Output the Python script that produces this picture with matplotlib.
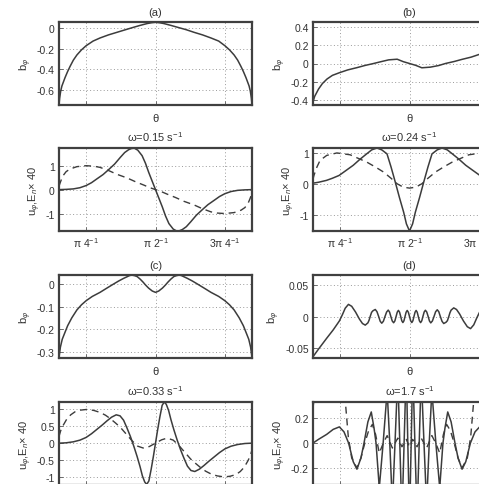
import matplotlib.pyplot as plt
import numpy as np

plt.rcParams['font.family'] = ['Liberation Sans', 'DejaVu Sans']
plt.rcParams['mathtext.fontset'] = 'custom'
plt.rcParams['mathtext.rm'] = 'Liberation Sans'
plt.rcParams['mathtext.it'] = 'Liberation Sans:italic'
plt.rcParams['axes.unicode_minus'] = False

# ---- data (theta in degrees) ----
th_a = [27.4, 27.8, 28.5, 29.3, 30.3, 31.3, 33, 34.6, 36.7, 39, 42, 45, 49.5, 54, 59.5, 65, 70.5, 75.6, 80, 84.6, 87.5, 90,
        92.5, 95.4, 100, 104.5, 110, 115, 120.5, 126, 131, 135, 138, 141, 143.3, 145.4, 147, 148.7, 149.7, 150.7, 151.5, 152.2, 152.6]
b_a = [-0.745, -0.68, -0.61, -0.56, -0.52, -0.48, -0.42, -0.37, -0.31, -0.26, -0.21, -0.17, -0.125, -0.095, -0.065, -0.04, -0.015, 0.008, 0.027, 0.045, 0.053, 0.057,
       0.053, 0.045, 0.027, 0.008, -0.015, -0.04, -0.065, -0.095, -0.125, -0.17, -0.21, -0.26, -0.31, -0.37, -0.42, -0.48, -0.52, -0.56, -0.61, -0.68, -0.745]

th_b = [27.4, 28.5, 31, 33.5, 36.5, 40, 44.7, 50, 56, 61, 66.7, 72, 76.5, 82, 86, 90, 94, 98, 103.5, 109, 113.3, 119, 124, 130, 135.3, 140, 143.5, 146.5, 149, 151.5, 152.6]
b_b = [-0.42, -0.36, -0.28, -0.22, -0.17, -0.13, -0.10, -0.07, -0.045, -0.022, 0.0, 0.022, 0.04, 0.047, 0.02, 0.0, -0.02, -0.047, -0.04, -0.022, 0.0, 0.022, 0.045, 0.07, 0.10, 0.13, 0.17, 0.22, 0.28, 0.36, 0.42]

th_c = [27.4, 28.3, 29.5, 31.3, 33, 35.7, 39, 42, 45, 49, 54, 58, 62.8, 66, 69.3, 71.5, 73, 74.5, 76.5, 78.1, 80, 82, 83.5, 85.5, 87.9, 90,
        92.1, 94.5, 96.5, 98, 100, 101.9, 103.5, 105.5, 107, 108.5, 110.7, 114, 117.2, 122, 126, 131, 135, 138, 141, 144.3, 147, 148.7, 150.5, 151.7, 152.6]
b_c = [-0.325, -0.28, -0.245, -0.214, -0.185, -0.15, -0.115, -0.092, -0.074, -0.055, -0.037, -0.02, 0.0, 0.013, 0.025, 0.032, 0.037, 0.04, 0.037, 0.033, 0.022, 0.008, -0.004, -0.018, -0.031, -0.037,
       -0.031, -0.018, -0.004, 0.008, 0.022, 0.033, 0.037, 0.04, 0.037, 0.032, 0.025, 0.013, 0.0, -0.02, -0.037, -0.055, -0.074, -0.092, -0.115, -0.15, -0.185, -0.214, -0.245, -0.28, -0.325]

th_d = [27.4, 31, 36.3, 40.5, 44.5, 46.5, 48.3, 50.4, 52.5, 55, 57.5, 59.5, 61.3, 63, 63.75, 64.5, 65.4, 66.3, 67.8, 68.9,
        70, 71, 72, 73.05, 74.1, 75.15, 76.2, 77.05, 77.9, 78.8, 79.7, 80.5, 81.3, 82.05, 82.8, 83.55, 84.3, 85, 85.7, 86.4,
        87.1, 87.8, 88.5, 89.25, 90, 90.75, 91.5, 92.2, 92.9, 93.6, 94.3, 95, 95.7, 96.45, 97.2, 97.95, 98.7, 99.5, 100.3, 101.2,
        102.1, 102.95, 103.8, 104.85, 105.9, 106.95, 108, 109, 110, 111.1, 112.2, 113.7, 114.6, 115.5, 116.25, 117, 118.7, 120.5, 122.5, 125,
        127.5, 129.6, 131.7, 133.5, 135.5, 139.5, 143.7, 149, 152.6]
b_d = [-0.063, -0.051, -0.034, -0.021, -0.007, 0.003, 0.013, 0.019, 0.016, 0.007, -0.004, -0.011, -0.0135, -0.010, -0.006, 0.0, 0.0065, 0.009, 0.011, 0.0075,
       0.0, -0.0075, -0.0105, -0.0075, 0.0, 0.007, 0.010, 0.007, 0.0, -0.007, -0.0098, -0.007, 0.0, 0.0068, 0.0096, 0.0068, 0.0, -0.0067, -0.0095, -0.0067,
       0.0, 0.0067, 0.0095, 0.0067, 0.0, -0.0067, -0.0095, -0.0067, 0.0, 0.0067, 0.0095, 0.0067, 0.0, -0.0068, -0.0096, -0.0068, 0.0, 0.007, 0.0098, 0.007,
       0.0, -0.007, -0.010, -0.007, 0.0, 0.0075, 0.0105, 0.0075, 0.0, -0.0075, -0.011, -0.009, -0.0065, 0.0, 0.006, 0.010, 0.0135, 0.011, 0.004, -0.007,
       -0.016, -0.019, -0.013, -0.003, 0.007, 0.021, 0.034, 0.051, 0.063]

th_015 = [27.4, 32, 36.7, 41, 45, 48.5, 52, 56, 59.5, 63.5, 67.2, 70, 72.6, 74.5, 76.3, 78.5, 81.3, 83.5, 85.6, 87.8, 90,
          92.2, 94.4, 96.5, 98.7, 101.5, 103.7, 105.5, 107.4, 110, 112.8, 116.5, 120.5, 124, 128, 131.5, 135, 139, 143.3, 148, 152.6]
u_015 = [0, 0.01, 0.03, 0.08, 0.17, 0.29, 0.45, 0.63, 0.83, 1.07, 1.35, 1.55, 1.67, 1.72, 1.73, 1.65, 1.42, 1.1, 0.72, 0.36, 0,
         -0.36, -0.72, -1.1, -1.42, -1.65, -1.73, -1.72, -1.67, -1.55, -1.35, -1.07, -0.83, -0.63, -0.45, -0.29, -0.17, -0.08, -0.03, -0.01, 0]
th_015e = [27.4, 28.7, 30, 32, 34.5, 39, 45, 50, 54, 59.5, 65, 71.5, 77, 82.4, 86, 90, 94, 97.6, 103, 108.5, 115, 120.5, 126, 130, 135, 141, 145.5, 148, 150, 151.3, 152.6]
e_015 = [0.15, 0.38, 0.58, 0.75, 0.86, 0.96, 1.0, 0.98, 0.93, 0.8, 0.64, 0.49, 0.33, 0.19, 0.09, 0, -0.09, -0.19, -0.33, -0.49, -0.64, -0.8, -0.93, -0.98, -1.0, -0.96, -0.86, -0.75, -0.58, -0.38, -0.15]

th_024 = [27.4, 31, 36.1, 40, 44.3, 48.5, 53.5, 58, 62.2, 65.5, 68.9, 72, 75.4, 78, 80.8, 83.5, 86.2, 88, 90,
          92, 93.8, 96.5, 99.2, 102, 104.6, 108, 111.1, 114.5, 117.8, 122, 126.5, 131.5, 135.7, 140, 143.9, 149, 152.6]
u_024 = [0.02, 0.05, 0.11, 0.18, 0.27, 0.42, 0.6, 0.8, 0.97, 1.1, 1.16, 1.1, 0.97, 0.55, 0.05, -0.45, -0.92, -1.3, -1.53,
         -1.3, -0.92, -0.45, 0.05, 0.55, 0.97, 1.1, 1.16, 1.1, 0.97, 0.8, 0.6, 0.42, 0.27, 0.18, 0.11, 0.05, 0.02]
th_024e = [27.4, 28, 30, 32, 36.3, 42.9, 51.5, 62.4, 68, 73.2, 78, 82, 86, 90, 94, 98, 102, 106.8, 112, 117.6, 128.5, 137.1, 143.7, 148, 150, 152, 152.6]
e_024 = [0.15, 0.27, 0.55, 0.76, 0.92, 1.0, 0.94, 0.7, 0.54, 0.38, 0.18, 0.0, -0.11, -0.14, -0.11, 0.0, 0.18, 0.38, 0.54, 0.7, 0.94, 1.0, 0.92, 0.76, 0.55, 0.27, 0.15]

th_033 = [27.4, 32, 36.7, 41, 45, 48.5, 52, 55.5, 58.5, 61.5, 64.5, 67, 69.3, 71.5, 73.7, 76, 78.1, 80, 81.5, 83, 84.3, 85.7, 87.2, 88.6, 90,
          91.4, 92.8, 94.3, 95.7, 97, 98.5, 100, 101.9, 104, 106.3, 108.5, 110.7, 113, 115.5, 118.5, 121.5, 124.5, 128, 131.5, 135, 139, 143.3, 148, 152.6]
u_033 = [0, 0.01, 0.04, 0.09, 0.17, 0.28, 0.41, 0.54, 0.66, 0.77, 0.84, 0.81, 0.68, 0.45, 0.2, -0.1, -0.4, -0.7, -0.97, -1.15, -1.22, -1.12, -0.77, -0.4, 0,
         0.4, 0.77, 1.12, 1.22, 1.15, 0.97, 0.7, 0.4, 0.1, -0.2, -0.45, -0.68, -0.81, -0.84, -0.77, -0.66, -0.54, -0.41, -0.28, -0.17, -0.09, -0.04, -0.01, 0]
th_033e = [27.4, 28.5, 30, 32.4, 35, 37.8, 41.5, 45.5, 50, 54.1, 57.5, 60.6, 64, 67.2, 71, 74.8, 78.5, 82.4, 86, 90,
           94, 97.6, 101.5, 105.2, 109, 112.8, 116, 119.4, 122.5, 125.9, 130, 134.5, 138.5, 142.2, 145, 147.6, 150, 151.5, 152.6]
e_033 = [0.2, 0.37, 0.52, 0.71, 0.84, 0.93, 0.98, 1.0, 0.97, 0.91, 0.83, 0.73, 0.6, 0.47, 0.27, 0.07, -0.09, -0.15, -0.1, 0,
         0.1, 0.15, 0.09, -0.07, -0.27, -0.47, -0.6, -0.73, -0.83, -0.91, -0.97, -1.0, -0.98, -0.93, -0.84, -0.71, -0.52, -0.37, -0.2]

th_17 = [27.4, 31, 36.3, 40.5, 44.5, 47.5, 50.5, 53.5, 55.9, 58.5, 60.5, 63, 65.2, 67, 68.3, 70.4, 72.9, 75.5, 77.2, 78.9, 80.6, 82.4, 83.7, 85.1, 86.5, 87.9, 88.9, 90,
         91.1, 92.1, 93.5, 94.9, 96.3, 97.6, 99.4, 101.1, 102.8, 104.5, 107.1, 109.6, 111.7, 113, 114.8, 117, 119.5, 121.5, 124.1, 126.5, 129.5, 132.5, 135.5, 139.5, 143.7, 149, 152.6]
u_17 = [0, 0.03, 0.07, 0.11, 0.13, 0.09, 0.0, -0.15, -0.21, -0.12, 0.0, 0.17, 0.25, 0.12, 0.0, -0.36, 0.0, 0.42, 0.0, -0.5, 0.0, 0.55, 0.0, -0.6, 0.0, 0.62, 0.0, -0.63,
        0.0, 0.62, 0.0, -0.6, 0.0, 0.55, 0.0, -0.5, 0.0, 0.42, 0.0, -0.36, 0.0, 0.12, 0.25, 0.17, 0.0, -0.12, -0.21, -0.15, 0.0, 0.09, 0.13, 0.11, 0.07, 0.03, 0]
th_17e = [27.4, 28.5, 31, 35, 38, 42, 45, 47, 48.6, 50.3, 52.5, 55.9, 58.5, 61, 63.5, 65.9, 68, 70.4, 73, 75.5, 78.9, 82.4, 85.1, 87.9, 90,
          92.1, 94.9, 97.6, 101.1, 104.5, 107, 109.6, 112, 114.1, 116.5, 119, 121.5, 124.1, 127.5, 129.7, 131.4, 133, 135, 138, 142, 145, 149, 151.5, 152.6]
e_17 = [0.28, 0.4, 0.6, 0.75, 0.78, 0.72, 0.6, 0.45, 0.3, 0.05, -0.12, -0.2, -0.12, 0.0, 0.1, 0.15, 0.07, -0.08, 0.0, 0.06, -0.04, 0.04, -0.03, 0.03, -0.03,
        0.03, -0.03, 0.04, -0.04, 0.06, 0.0, -0.08, 0.07, 0.15, 0.1, 0.0, -0.12, -0.2, -0.12, 0.05, 0.3, 0.45, 0.6, 0.72, 0.78, 0.75, 0.6, 0.4, 0.28]

W, H = 479, 485
AW, AH = 193, 83
fig = plt.figure(figsize=(W / 100, H / 100), dpi=100)
line_col = '#3c3c3c'


def make_ax(left, top, ylim, yticks, title, ylabel, xlabels):
    ax = fig.add_axes([left / W, 1 - (top + AH) / H, AW / W, AH / H])
    ax.set_xlim(27.4, 152.6)
    ax.set_ylim(*ylim)
    ax.set_xticks([45, 90, 135])
    if xlabels == 'pi':
        ax.set_xticklabels([r'π 4$^{-1}$', r'π 2$^{-1}$', r'3π 4$^{-1}$'])
    elif xlabels == 'theta':
        ax.set_xticklabels([])
        ax.set_xlabel('θ', fontsize=8, labelpad=3, color='#333333')
    else:
        # bottom row: labels fall below the cropped edge
        ax.set_xticklabels([])
    ax.set_yticks(yticks)
    ax.set_yticklabels([f'{v:g}' for v in yticks])
    ax.grid(True, linestyle=(0, (1, 2.5)), color='#9a9a9a', lw=0.7)
    ax.tick_params(direction='in', length=3, width=0.6, colors='#555555', labelcolor='#333333', labelsize=7.5, pad=3)
    for s in ax.spines.values():
        s.set_linewidth(1.6)
        s.set_color('#404040')
    ax.set_title(title, fontsize=8, pad=5, color='#333333')
    ax.set_ylabel(ylabel, fontsize=8, labelpad=2, color='#333333')
    return ax


lab_b = r'b$_\varphi$'
lab_u = r'u$_\varphi$,E$_n$× 40'

ax = make_ax(59, 23, (-0.745, 0.06), [-0.6, -0.4, -0.2, 0], '(a)', lab_b, 'theta')
ax.plot(th_a, b_a, color=line_col, lw=1.1)

ax = make_ax(313, 23, (-0.455, 0.455), [-0.4, -0.2, 0, 0.2, 0.4], '(b)', lab_b, 'theta')
ax.plot(th_b, b_b, color=line_col, lw=1.1)

ax = make_ax(59, 149, (-1.73, 1.74), [-1, 0, 1], r'ω=0.15 s$^{-1}$', lab_u, 'pi')
ax.plot(th_015, u_015, color=line_col, lw=1.1)
ax.plot(th_015e, e_015, color=line_col, lw=1.0, dashes=(5, 3.5))

ax = make_ax(313, 149, (-1.53, 1.16), [-1, 0, 1], r'ω=0.24 s$^{-1}$', lab_u, 'pi')
ax.plot(th_024, u_024, color=line_col, lw=1.1)
ax.plot(th_024e, e_024, color=line_col, lw=1.0, dashes=(5, 3.5))

ax = make_ax(59, 276, (-0.328, 0.04), [-0.3, -0.2, -0.1, 0], '(c)', lab_b, 'theta')
ax.plot(th_c, b_c, color=line_col, lw=1.1)

ax = make_ax(313, 276, (-0.065, 0.065), [-0.05, 0, 0.05], '(d)', lab_b, 'theta')
ax.plot(th_d, b_d, color=line_col, lw=1.1)

ax = make_ax(59, 403, (-1.24, 1.22), [-1, -0.5, 0, 0.5, 1], r'ω=0.33 s$^{-1}$', lab_u, None)
ax.plot(th_033, u_033, color=line_col, lw=1.1)
ax.plot(th_033e, e_033, color=line_col, lw=1.0, dashes=(5, 3.5))

ax = make_ax(313, 403, (-0.337, 0.33), [-0.2, 0, 0.2], r'ω=1.7 s$^{-1}$', lab_u, None)
ax.plot(th_17, u_17, color=line_col, lw=1.1)
ax.plot(th_17e, e_17, color=line_col, lw=1.0, dashes=(5, 3.5))

fig.savefig('out.png', dpi=100)
